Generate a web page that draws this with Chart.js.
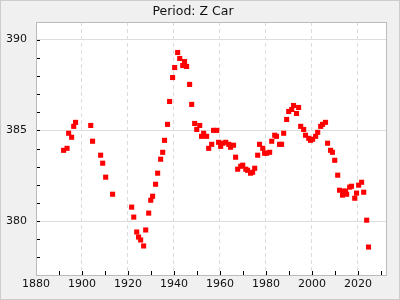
<!DOCTYPE html>
<html>
<head>
<meta charset="utf-8">
<script src="https://cdn.jsdelivr.net/npm/chart.js@4"></script>
<style>
  html, body { margin: 0; padding: 0; background: #f0f0f0; }
  #wrap { width: 400px; height: 300px; position: relative; }
</style>
</head>
<body>
<div id="wrap"><canvas id="chart" width="400" height="300"></canvas></div>
<script>
const years = [
  1892.0, 1893.5, 1894.2, 1895.5, 1896.4, 1897.2, 1903.8, 1904.6, 1908.1, 1909.0,
  1910.3, 1913.3, 1921.6, 1922.5, 1923.8, 1924.6, 1925.5, 1926.8, 1927.7, 1929.0,
  1929.9, 1930.7, 1932.0, 1932.9, 1934.2, 1935.1, 1935.9, 1937.2, 1938.1, 1939.4,
  1940.3, 1941.6, 1942.5, 1943.8, 1944.6, 1945.5, 1946.8, 1947.7, 1949.0, 1949.9,
  1951.2, 1952.0, 1952.9, 1954.2, 1955.1, 1956.4, 1957.2, 1958.6, 1959.4, 1960.3,
  1961.2, 1962.5, 1963.8, 1964.6, 1965.9, 1966.8, 1967.7, 1969.0, 1969.9, 1971.2,
  1972.0, 1973.3, 1974.2, 1975.1, 1976.4, 1977.2, 1978.6, 1979.4, 1980.3, 1981.6,
  1982.5, 1983.8, 1984.6, 1985.9, 1986.8, 1987.7, 1989.0, 1989.9, 1991.2, 1992.0,
  1993.3, 1994.2, 1995.1, 1996.4, 1997.2, 1998.6, 1999.4, 2000.3, 2001.6, 2002.5,
  2003.8, 2004.6, 2005.9, 2006.8, 2008.1, 2008.9, 2009.9, 2011.2, 2012.0, 2013.3,
  2013.8, 2014.6, 2015.1, 2016.4, 2017.2, 2018.6, 2019.4, 2020.3, 2021.6, 2022.5,
  2023.8, 2024.6
];
const values = [
  383.90, 384.01, 384.84, 384.62, 385.22, 385.44, 385.27, 384.40, 383.63, 383.19,
  382.42, 381.48, 380.77, 380.22, 379.40, 379.12, 378.96, 378.63, 379.51, 380.44,
  381.15, 381.37, 382.03, 382.64, 383.41, 383.79, 384.45, 385.33, 386.59, 387.91,
  388.46, 389.29, 388.96, 388.57, 388.79, 388.52, 387.53, 386.43, 385.38, 385.05,
  385.27, 384.67, 384.84, 384.67, 384.01, 384.23, 385.00, 385.00, 384.34, 384.12,
  384.29, 384.34, 384.23, 384.07, 384.18, 383.52, 382.86, 383.02, 383.08, 382.86,
  382.80, 382.64, 382.69, 382.91, 383.63, 384.23, 384.01, 383.74, 383.74, 383.79,
  384.40, 384.73, 384.67, 384.23, 384.23, 384.84, 385.60, 386.04, 386.15, 386.37,
  385.93, 386.26, 385.22, 385.05, 384.73, 384.56, 384.45, 384.51, 384.67, 384.89,
  385.22, 385.33, 385.44, 384.29, 383.90, 383.79, 383.35, 382.53, 381.70, 381.43,
  381.65, 381.65, 381.48, 381.87, 381.92, 381.26, 381.54, 381.98, 382.14, 381.59,
  380.05, 378.57
];
const xTickLabels = [1880, 1900, 1920, 1940, 1960, 1980, 2000, 2020];
const yTickLabels = [380, 385, 390];

const points = years.map((x, i) => ({ x: x, y: values[i] }));

// white plot area, frame, inward tick marks
const framePlugin = {
  id: 'frame',
  beforeDraw(chart) {
    const { ctx, chartArea: a } = chart;
    ctx.save();
    ctx.fillStyle = '#ffffff';
    ctx.fillRect(a.left, a.top, a.right - a.left, a.bottom - a.top);
    ctx.restore();
  },
  afterDatasetsDraw(chart) {
    const { ctx, chartArea: a, scales } = chart;
    ctx.save();
    ctx.strokeStyle = '#000';
    ctx.lineWidth = 1;
    ctx.beginPath();
    scales.x.ticks.forEach(t => {
      if (t.value % 10 !== 0) return;
      const px = Math.round(scales.x.getPixelForValue(t.value)) + 0.5;
      ctx.moveTo(px, a.bottom);
      ctx.lineTo(px, a.bottom - 4);
    });
    scales.y.ticks.forEach(t => {
      const py = Math.round(scales.y.getPixelForValue(t.value)) + 0.5;
      ctx.moveTo(a.left, py);
      ctx.lineTo(a.left + 4, py);
    });
    ctx.stroke();
    ctx.strokeStyle = '#bbbbbb';
    ctx.strokeRect(Math.round(a.left) + 0.5, Math.round(a.top) + 0.5,
      Math.round(a.right - a.left), Math.round(a.bottom - a.top));
    ctx.strokeStyle = '#cccccc';
    ctx.strokeRect(0.5, 0.5, chart.width - 1, chart.height - 1);
    ctx.restore();
  }
};

new Chart(document.getElementById('chart').getContext('2d'), {
  type: 'scatter',
  data: {
    datasets: [{
      data: points,
      pointStyle: 'rect',
      pointRadius: 3.6,
      pointHoverRadius: 3.6,
      pointBorderWidth: 0,
      backgroundColor: '#ff0000',
      borderColor: '#ff0000'
    }]
  },
  options: {
    responsive: false,
    animation: false,
    layout: { padding: { left: 0, right: 14, top: 0, bottom: 0 } },
    plugins: {
      legend: { display: false },
      tooltip: { enabled: false },
      title: {
        display: true,
        text: 'Period: Z Car',
        color: '#111',
        font: { family: 'DejaVu Sans', size: 12.5, weight: 'normal' },
        padding: { top: 4, bottom: 3 }
      }
    },
    scales: {
      x: {
        type: 'linear',
        min: 1880,
        max: 2032.2,
        afterFit(s) { s.height = 25; },
        ticks: {
          stepSize: 10,
          includeBounds: false,
          autoSkip: false,
          maxRotation: 0,
          padding: 3,
          color: '#111',
          font: { family: 'DejaVu Sans', size: 11 },
          callback: v => xTickLabels.includes(v) ? String(v) : ''
        },
        grid: {
          drawTicks: false,
          color: c => (c.tick && xTickLabels.includes(c.tick.value)) ? '#dddddd' : 'rgba(0,0,0,0)'
        },
        border: { display: false, dash: [4, 3] }
      },
      y: {
        type: 'linear',
        min: 377.03,
        max: 390.97,
        afterFit(s) { s.width = 36; },
        ticks: {
          stepSize: 1,
          includeBounds: false,
          autoSkip: false,
          padding: 9,
          color: '#111',
          font: { family: 'DejaVu Sans', size: 11 },
          callback: v => yTickLabels.includes(v) ? String(v) : ''
        },
        grid: {
          drawTicks: false,
          color: c => (c.tick && yTickLabels.includes(c.tick.value)) ? '#dddddd' : 'rgba(0,0,0,0)'
        },
        border: { display: false }
      }
    }
  },
  plugins: [framePlugin]
});
</script>
</body>
</html>
